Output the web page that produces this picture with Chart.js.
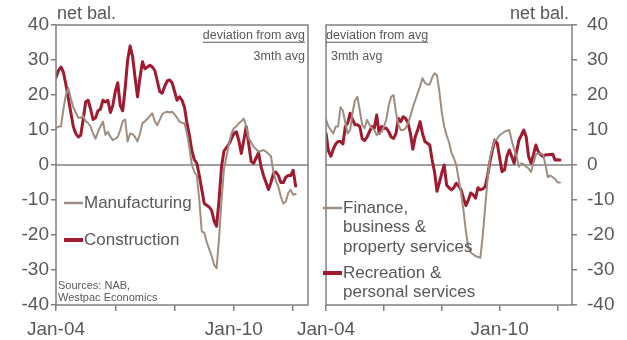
<!DOCTYPE html>
<html>
<head>
<meta charset="utf-8">
<script src="https://cdn.jsdelivr.net/npm/chart.js@4.4.1/dist/chart.umd.min.js"></script>
<style>
  html, body { margin: 0; padding: 0; background: #fff; }
  #wrap { position: relative; width: 627px; height: 340px; overflow: hidden; }
  canvas { position: absolute; top: 0; }
  #left { left: 0; }
  #right { left: 290px; }
</style>
</head>
<body>
<div id="wrap">
  <canvas id="left" width="313" height="340"></canvas>
  <canvas id="right" width="337" height="340"></canvas>
</div>
<script>
// Monthly net balances, 3mth avg, deviation from avg. Index 0 = Jan-04.
const manufacturing = [
  10.5, 11, 11, 16, 20, 22, 19, 16.5, 15, 13.5, 13.5, 14,
  12.5, 12, 11, 9, 7.5, 9.5, 11, 12.4, 8.6, 9.5, 8.1, 7.1,
  7.5, 8, 10, 12.5, 13, 6.7, 9, 8.8, 8, 6.7, 9, 11.9,
  12.5, 13.2, 14, 14.8, 12.5, 11.4, 12.9, 14.5, 15, 15.2, 15, 15.2,
  14.5, 13.5, 12.4, 12, 11.9, 9, 5, 0, -2, -3, -10, -19,
  -19.3, -22, -24, -26, -28.5, -29.5, -21, -10, -1, 2.4, 6, 9,
  10.5, 11, 11.9, 12.5, 13.3, 11, 7.6, 6.5, 5.2, 4.5, 3.8, 4,
  4.3, 3.8, 3.2, 2.5, -2, -4.5, -6.2, -9, -11, -10.5, -8, -7.1,
  -8.5, -8.3
];
const construction = [
  25, 27, 28, 26.5, 23, 19, 15, 11, 9, 8, 8.5, 13,
  18, 18.5, 16, 13, 13.5, 15.5, 16, 18.5, 18, 18.5, 15, 17,
  21, 23.5, 17, 15.5, 22, 30, 34, 31, 25, 19.5, 25, 29.5,
  27.5, 28, 28.5, 28, 27, 24, 21, 20.5, 22.5, 24, 24.3, 23.5,
  21, 18.5, 19.5, 18.5, 16.5, 12, 8.5, 4, 1.5, 0.5, -3, -7,
  -11, -11.5, -12, -13, -16, -17.5, -10, -0.5, 4, 5, 6, 7.5,
  9, 9.5, 7, 3.3, 7, 11, 6, 1, 0.5, 2, 3.5, -0.5,
  -3, -5, -7, -5, -2.5, -2, -3, -5, -5, -3.5, -3, -3,
  -1.5, -6
];
const finance = [
  13, 11, 10, 9, 11, 11, 16.5, 15.5, 12, 9, 10, 15,
  18.5, 19.5, 15.5, 11.5, 10.5, 12.9, 11.5, 10.5, 10, 8.5, 9, 9.5,
  11, 13, 17, 19.5, 20, 15, 11.5, 10, 10, 10.5, 12, 14,
  16.5, 18.5, 20.5, 22.5, 24.8, 23.5, 23, 23, 25, 26.2, 25.7, 21,
  15, 11, 8.5, 6.5, 3.5, 2, 0, -4, -8, -13, -19, -23.5,
  -25, -25.5, -26, -26.3, -26.5, -20, -12, -4, 2, 5, 7, 7.5,
  8.5, 9, 9.5, 9.8, 10, 7, 4.5, 2.5, -0.5, 0.5, 0.2, -0.5,
  -1, -2, 0.5, 3, 3.3, 3.3, 3, 0, -3.5, -3, -3.5, -4,
  -5, -5
];
const recreation = [
  9, 4, 2.5, 4.5, 6, 6.7, 6.7, 6, 11, 12, 14.8, 13,
  11.5, 11.5, 11, 7.5, 7, 8, 9.5, 11, 10.5, 14.3, 9, 11,
  10.5, 10.5, 9.5, 8, 7.6, 9, 13.3, 12.4, 13.8, 13.3, 12, 9,
  4.5, 8.1, 10, 12.4, 9, 6.7, 6.2, 5.7, 1.4, -2, -7.5, -5,
  -2.3, 0, -5.7, -6.5, -7.1, -6.5, -5.2, -6, -7.1, -9.5, -11.6, -10,
  -8, -8.5, -9.5, -6.5, -7.1, -6.8, -6.2, -3, 1, 4.3, 7.1, 6.2,
  2, -1.9, -1.4, 2.5, 4.3, 2.4, 0.5, 3.8, 7.1, 8.5, 10, 8.1,
  2.4, 0.5, 2.9, 5.7, 3.8, 3, 2.4, 2.9, 2.9, 3, 3.1, 1.4,
  1.5, 1.4
];

// x ticks every two years; only some carry a label
const xTickMonths = [0, 24, 48, 72, 96];
const xTickLabels = ['Jan-04', '', '', 'Jan-10', ''];
const xMax = 102;
const yMin = -40, yMax = 40, yStep = 10;

const RED = '#A01A31';
const TAN = '#9E8E82';
const TEXT = '#595959';
const AXIS = '#808080';
const FONT = "'Liberation Sans', Arial, sans-serif";

const toPoints = arr => arr.map((v, i) => ({ x: i, y: v }));

// zero line under the series, box frame and free text on top
const panelDecor = {
  id: 'panelDecor',
  beforeDatasetsDraw(chart) {
    const { ctx, chartArea: a, scales } = chart;
    const y0 = scales.y.getPixelForValue(0);
    ctx.save();
    ctx.strokeStyle = AXIS;
    ctx.lineWidth = 1.5;
    ctx.beginPath();
    ctx.moveTo(a.left, y0);
    ctx.lineTo(a.right, y0);
    ctx.stroke();
    ctx.restore();
  },
  afterDatasetsDraw(chart, args, opts) {
    const { ctx, chartArea: a } = chart;
    ctx.save();
    ctx.strokeStyle = AXIS;
    ctx.lineWidth = 1.5;
    ctx.strokeRect(a.left, a.top, a.right - a.left, a.bottom - a.top);

    ctx.fillStyle = TEXT;
    ctx.textBaseline = 'middle';
    for (const n of opts.notes || []) {
      ctx.font = `${n.size}px ${FONT}`;
      ctx.textAlign = n.align || 'left';
      ctx.fillText(n.text, n.x, n.y);
      if (n.underline) {
        const w = ctx.measureText(n.text).width;
        const x0 = n.align === 'right' ? n.x - w : n.x;
        ctx.strokeStyle = TEXT;
        ctx.lineWidth = 1;
        ctx.beginPath();
        ctx.moveTo(x0, n.y + n.size * 0.5);
        ctx.lineTo(x0 + w, n.y + n.size * 0.5);
        ctx.stroke();
      }
    }
    for (const k of opts.keys || []) {
      ctx.strokeStyle = k.color;
      ctx.lineWidth = k.width;
      ctx.beginPath();
      ctx.moveTo(k.x, k.y);
      ctx.lineTo(k.x + 19, k.y);
      ctx.stroke();
      ctx.font = `17px ${FONT}`;
      ctx.textAlign = 'left';
      k.lines.forEach((t, i) => ctx.fillText(t, k.x + 20, k.y + i * 19.5));
    }
    ctx.restore();
  }
};

function makePanel(el, side, series, decor) {
  const yPos = side === 'left' ? 'left' : 'right';
  return new Chart(el, {
    type: 'line',
    data: {
      datasets: series.map(s => ({
        label: s.label,
        data: toPoints(s.values),
        borderColor: s.color,
        borderWidth: s.width,
        pointRadius: 0,
        tension: 0,
        borderJoinStyle: 'round',
        borderCapStyle: 'round',
        fill: false
      }))
    },
    options: {
      responsive: false,
      animation: false,
      events: [],
      layout: { padding: side === 'left'
        ? { left: 0, right: 5, top: 25, bottom: 0 }
        : { left: 29, right: 0, top: 25, bottom: 0 } },
      plugins: {
        legend: { display: false },
        tooltip: { enabled: false },
        panelDecor: decor
      },
      scales: {
        x: {
          type: 'linear',
          min: 0,
          max: xMax,
          afterBuildTicks: s => { s.ticks = xTickMonths.map(v => ({ value: v })); },
          afterFit: s => { s.height = 35; },
          ticks: {
            autoSkip: false,
            maxRotation: 0,
            padding: 7,
            color: TEXT,
            font: { family: FONT, size: 19 },
            callback: v => xTickLabels[xTickMonths.indexOf(v)] ?? ''
          },
          grid: { drawOnChartArea: false, drawTicks: true, tickLength: 6, color: AXIS, lineWidth: 1.5 },
          border: { display: false }
        },
        y: {
          position: yPos,
          min: yMin,
          max: yMax,
          afterFit: s => { s.width = side === 'left' ? 56 : 55; },
          ticks: {
            stepSize: yStep,
            padding: side === 'left' ? 2 : 10,
            color: TEXT,
            font: { family: FONT, size: 19 }
          },
          grid: { drawOnChartArea: false, drawTicks: true, tickLength: 5, color: AXIS, lineWidth: 1.5 },
          border: { display: false }
        }
      }
    },
    plugins: [panelDecor]
  });
}

makePanel(document.getElementById('left'), 'left', [
  { label: 'Manufacturing', values: manufacturing, color: TAN, width: 2 },
  { label: 'Construction', values: construction, color: RED, width: 3 }
], {
  notes: [
    { text: 'net bal.', x: 57, y: 14, size: 18 },
    { text: 'deviation from avg', x: 305, y: 36, size: 12.5, align: 'right', underline: true },
    { text: '3mth avg', x: 305, y: 57, size: 12.5, align: 'right' },
    { text: 'Sources: NAB,', x: 58, y: 286, size: 11 },
    { text: 'Westpac Economics', x: 58, y: 298, size: 11 }
  ],
  keys: [
    { x: 64, y: 203, color: TAN, width: 2.5, lines: ['Manufacturing'] },
    { x: 64, y: 240, color: RED, width: 4, lines: ['Construction'] }
  ]
});

makePanel(document.getElementById('right'), 'right', [
  { label: 'Finance, business & property services', values: finance, color: TAN, width: 2 },
  { label: 'Recreation & personal services', values: recreation, color: RED, width: 3 }
], {
  notes: [
    { text: 'net bal.', x: 279, y: 14, size: 18, align: 'right' },
    { text: 'deviation from avg', x: 36, y: 36, size: 12.5, underline: true },
    { text: '3mth avg', x: 41, y: 57, size: 12.5 }
  ],
  keys: [
    { x: 33, y: 208, color: TAN, width: 2.5, lines: ['Finance,', 'business &', 'property services'] },
    { x: 33, y: 273, color: RED, width: 4, lines: ['Recreation &', 'personal services'] }
  ]
});
</script>
</body>
</html>
